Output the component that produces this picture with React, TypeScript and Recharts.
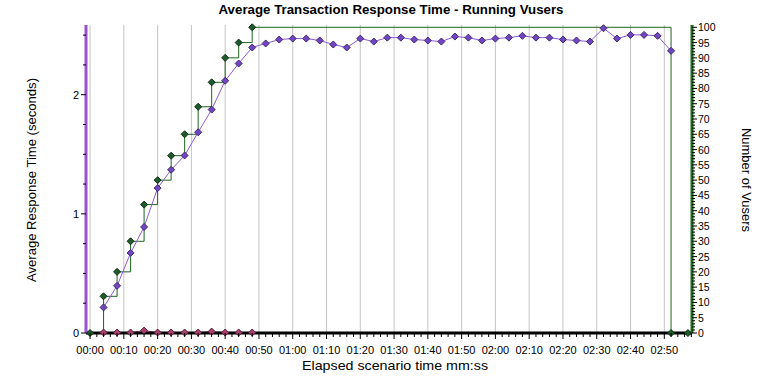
import React from "react";
import { LineChart, Line, XAxis, YAxis, ReferenceLine } from "recharts";

// elapsed seconds for each sample
const respTimes = [4, 8, 12, 16, 20, 24, 28, 32, 36, 40, 44, 48, 52, 56, 60, 64, 68, 72, 76, 80, 84, 88, 92, 96, 100, 104, 108, 112, 116, 120, 124, 128, 132, 136, 140, 144, 148, 152, 156, 160, 164, 168, 172];
const respValues = [0.215, 0.396, 0.672, 0.89, 1.216, 1.37, 1.49, 1.685, 1.875, 2.117, 2.262, 2.396, 2.43, 2.463, 2.471, 2.471, 2.455, 2.421, 2.396, 2.471, 2.446, 2.479, 2.479, 2.463, 2.455, 2.446, 2.488, 2.479, 2.455, 2.471, 2.479, 2.494, 2.479, 2.479, 2.463, 2.455, 2.446, 2.558, 2.471, 2.502, 2.502, 2.494, 2.368];

const initTimes = [4, 8, 12, 16, 20, 24, 28, 32, 36, 40, 44, 48];
const initValues = [0.004, 0.004, 0.004, 0.02, 0.004, 0.004, 0.004, 0.004, 0.012, 0.004, 0.004, 0.004];

const vuserTimes = [0, 4, 8, 12, 16, 20, 24, 28, 32, 36, 40, 44, 48, 172, 177];
const vuserValues = [0, 12, 20, 30, 42, 50, 58, 65, 74, 82, 90, 95, 100, 0, 0];

const majorXTicks = [0, 10, 20, 30, 40, 50, 60, 70, 80, 90, 100, 110, 120, 130, 140, 150, 160, 170];

const xTicks: number[] = [];
for (let s = 0; s <= 178; s += 2) xTicks.push(s);
const leftTicks: number[] = [];
for (let i = 0; i <= 10; i++) leftTicks.push(i * 0.25);
const rightTicks: number[] = [];
for (let i = 0; i <= 100; i++) rightTicks.push(i);

const respData = respTimes.map((t, i) => ({ t, v: respValues[i] }));
const initData = initTimes.map((t, i) => ({ t, v: initValues[i] }));
const vuserData = vuserTimes.map((t, i) => ({ t, v: vuserValues[i] }));

const FONT = "'Liberation Sans', Arial, sans-serif";

const pad = (n: number) => (n < 10 ? "0" + n : "" + n);
const fmt = (v: number) => `${pad(Math.floor(v / 60))}:${pad(v % 60)}`;

const Diamond = ({ cx, cy, fill, stroke }: any) => {
  if (cx == null || cy == null) return null;
  const r = 3.5;
  return (
    <polygon
      points={`${cx},${cy - r} ${cx + r},${cy} ${cx},${cy + r} ${cx - r},${cy}`}
      fill={fill}
      stroke={stroke}
      strokeWidth={1}
    />
  );
};

const XTick = (props: any) => {
  const { x, y, payload } = props;
  const v = payload.value;
  const major = v % 10 === 0;
  return (
    <g>
      <line x1={x} y1={y} x2={x} y2={y + (major ? 6 : 4)} stroke="#000" />
      {major && (
        <text x={x} y={y + 21} textAnchor="middle" fontSize={11} fontFamily={FONT} fill="#000">
          {fmt(v)}
        </text>
      )}
    </g>
  );
};

const LeftTick = (props: any) => {
  const { x, y, payload } = props;
  const v = payload.value;
  const major = Math.abs(v - Math.round(v)) < 1e-6;
  return (
    <g>
      <line x1={x - (major ? 5 : 3)} y1={y} x2={x} y2={y} stroke="#000" />
      {major && (
        <text x={x - 7} y={y + 4} textAnchor="end" fontSize={11} fontFamily={FONT} fill="#000">
          {v}
        </text>
      )}
    </g>
  );
};

const RightTick = (props: any) => {
  const { x, y, payload } = props;
  const v = payload.value;
  const major = v % 5 === 0;
  return (
    <g>
      <line x1={x} y1={y} x2={x + (major ? 5 : 3)} y2={y} stroke="#000" />
      {major && (
        <text x={x + 6} y={y + 4} textAnchor="start" fontSize={10.5} fontFamily={FONT} fill="#000">
          {v}
        </text>
      )}
    </g>
  );
};

export default function App() {
  return (
    <div style={{ position: "absolute", left: 0, top: 0, width: 778, height: 390, background: "#fff" }}>
      <LineChart width={778} height={390} margin={{ top: 25, right: 0, bottom: 0, left: 0 }}>
        <XAxis
          type="number"
          dataKey="t"
          domain={[-1.2, 178.2]}
          ticks={xTicks}
          interval={0}
          tickSize={0}
          tickMargin={0}
          tick={<XTick />}
          height={57}
          axisLine={{ stroke: "#000", strokeWidth: 3 }}
        />
        <XAxis
          xAxisId="top"
          orientation="top"
          type="number"
          domain={[-1.2, 178.2]}
          height={0}
          tick={false}
          tickLine={false}
          axisLine={{ stroke: "#000", strokeWidth: 1 }}
        />
        <YAxis
          yAxisId="left"
          type="number"
          domain={[0, 2.585]}
          ticks={leftTicks}
          interval={0}
          tickSize={0}
          tickMargin={0}
          tick={<LeftTick />}
          width={86}
          axisLine={{ stroke: "#9b51d6", strokeWidth: 3 }}
        />
        <YAxis
          yAxisId="right"
          orientation="right"
          type="number"
          domain={[0, 100.75]}
          ticks={rightTicks}
          interval={0}
          tickSize={0}
          tickMargin={0}
          tick={<RightTick />}
          width={86}
          axisLine={{ stroke: "#1d6b1d", strokeWidth: 3 }}
        />
        {majorXTicks.map((t) => (
          <ReferenceLine key={t} x={t} yAxisId="left" stroke="#c4c4c4" strokeWidth={1} />
        ))}
        <Line
          yAxisId="right"
          data={vuserData}
          dataKey="v"
          type="stepAfter"
          stroke="#1e641e"
          strokeWidth={1}
          isAnimationActive={false}
          dot={(p: any) => <Diamond key={`g${p.index}`} cx={p.cx} cy={p.cy} fill="#1f5a2d" stroke="#0f2f14" />}
        />
        <Line
          yAxisId="left"
          data={initData}
          dataKey="v"
          type="linear"
          stroke="#c0507e"
          strokeWidth={1}
          isAnimationActive={false}
          dot={(p: any) => <Diamond key={`p${p.index}`} cx={p.cx} cy={p.cy} fill="#a8406d" stroke="#5a1f38" />}
        />
        <Line
          yAxisId="left"
          data={respData}
          dataKey="v"
          type="linear"
          stroke="#8e5bd6"
          strokeWidth={1}
          isAnimationActive={false}
          dot={(p: any) => <Diamond key={`r${p.index}`} cx={p.cx} cy={p.cy} fill="#7246c2" stroke="#3d2a6b" />}
        />
      </LineChart>
      <svg
        width={778}
        height={390}
        style={{ position: "absolute", left: 0, top: 0, pointerEvents: "none" }}
      >
        <text x={391} y={14} textAnchor="middle" fontSize={13} fontWeight="bold" fontFamily={FONT} textLength={345} lengthAdjust="spacingAndGlyphs">
          Average Transaction Response Time - Running Vusers
        </text>
        <text x={395} y={370} textAnchor="middle" fontSize={13} fontFamily={FONT} textLength={186} lengthAdjust="spacingAndGlyphs">
          Elapsed scenario time mm:ss
        </text>
        <text
          transform="translate(36,180) rotate(-90)"
          textAnchor="middle"
          fontSize={13}
          fontFamily={FONT}
          textLength={204}
          lengthAdjust="spacingAndGlyphs"
        >
          Average Response Time (seconds)
        </text>
        <text
          transform="translate(742,180) rotate(90)"
          textAnchor="middle"
          fontSize={13}
          fontFamily={FONT}
          textLength={104}
          lengthAdjust="spacingAndGlyphs"
        >
          Number of Vusers
        </text>
      </svg>
    </div>
  );
}
